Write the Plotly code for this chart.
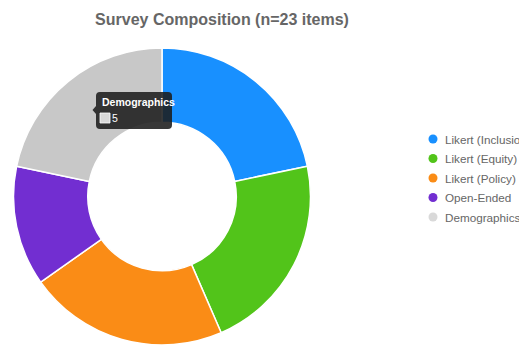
import plotly.graph_objects as go

W, H = 519, 345

categories = ["Likert (Inclusion)", "Likert (Equity)", "Likert (Policy)", "Open-Ended", "Demographics"]
item_counts = [5, 5, 5, 3, 5]
slice_colors = ["#1890ff", "#52c41a", "#fa8c16", "#722ed1", "#c8c8c8"]
legend_colors = ["#1890ff", "#52c41a", "#fa8c16", "#722ed1", "#d9d9d9"]
title_text = "Survey Composition (n=23 items)"
tip_index = 4  # slice whose tooltip is shown


def px(x):
    return x / W


def py(y):
    return 1 - y / H


fig = go.Figure(
    go.Pie(
        labels=categories,
        values=item_counts,
        hole=0.5,
        sort=False,
        direction="clockwise",
        rotation=0,
        marker=dict(colors=slice_colors, line=dict(color="#ffffff", width=1.5)),
        textinfo="none",
        hoverinfo="none",
        showlegend=False,
        domain=dict(x=[px(13.5), px(310.5)], y=[0, py(48)]),
    )
)

# legend: round markers with labels, one row per category
row0, row_gap = 139, 19.5
for i, (name, col) in enumerate(zip(categories, legend_colors)):
    yc = row0 + i * row_gap
    fig.add_shape(
        type="circle", xref="paper", yref="paper",
        x0=px(428.5), x1=px(437.5), y0=py(yc + 4.5), y1=py(yc - 4.5),
        fillcolor=col, line=dict(width=0),
    )
    fig.add_annotation(
        x=px(443), y=py(yc), xref="paper", yref="paper",
        xanchor="left", yanchor="middle", showarrow=False, text=name,
        font=dict(family="Liberation Sans", size=11.7, color="#666666"),
    )

# tooltip box with a small pointer on its left edge
x0, x1, y0, y1, r = 96, 172, 92, 129, 4
tip_path = (
    f"M {px(x0 + r)} {py(y0)} L {px(x1 - r)} {py(y0)} "
    f"Q {px(x1)} {py(y0)} {px(x1)} {py(y0 + r)} L {px(x1)} {py(y1 - r)} "
    f"Q {px(x1)} {py(y1)} {px(x1 - r)} {py(y1)} L {px(x0 + r)} {py(y1)} "
    f"Q {px(x0)} {py(y1)} {px(x0)} {py(y1 - r)} L {px(x0)} {py(114)} "
    f"L {px(92.5)} {py(110)} L {px(x0)} {py(106)} L {px(x0)} {py(y0 + r)} "
    f"Q {px(x0)} {py(y0)} {px(x0 + r)} {py(y0)} Z"
)
fig.add_shape(
    type="path", path=tip_path, xref="paper", yref="paper",
    fillcolor="rgba(28,28,28,0.88)", line=dict(width=0), layer="above",
)
fig.add_shape(
    type="rect", xref="paper", yref="paper",
    x0=px(100), x1=px(110), y0=py(123), y1=py(113),
    fillcolor="#d9d9d9", line=dict(color="#ffffff", width=0.8), layer="above",
)
fig.add_annotation(
    x=px(100), y=py(102), xref="paper", yref="paper",
    xanchor="left", yanchor="middle", showarrow=False,
    text=f"<b>{categories[tip_index]}</b>",
    font=dict(family="Liberation Sans", size=10.5, color="#ffffff"),
)
fig.add_annotation(
    x=px(110), y=py(118), xref="paper", yref="paper",
    xanchor="left", yanchor="middle", showarrow=False,
    text=str(item_counts[tip_index]),
    font=dict(family="Liberation Sans", size=10.5, color="#ffffff"),
)

fig.update_layout(
    width=W,
    height=H,
    margin=dict(l=0, r=0, t=0, b=0, pad=0, autoexpand=False),
    paper_bgcolor="#ffffff",
    plot_bgcolor="#ffffff",
    title=dict(
        text=f"<b>{title_text}</b>",
        x=px(222), y=py(19), xanchor="center", yanchor="middle",
        font=dict(family="Liberation Sans", size=16, color="#666666"),
    ),
    showlegend=False,
)

fig.write_html("out.html")
